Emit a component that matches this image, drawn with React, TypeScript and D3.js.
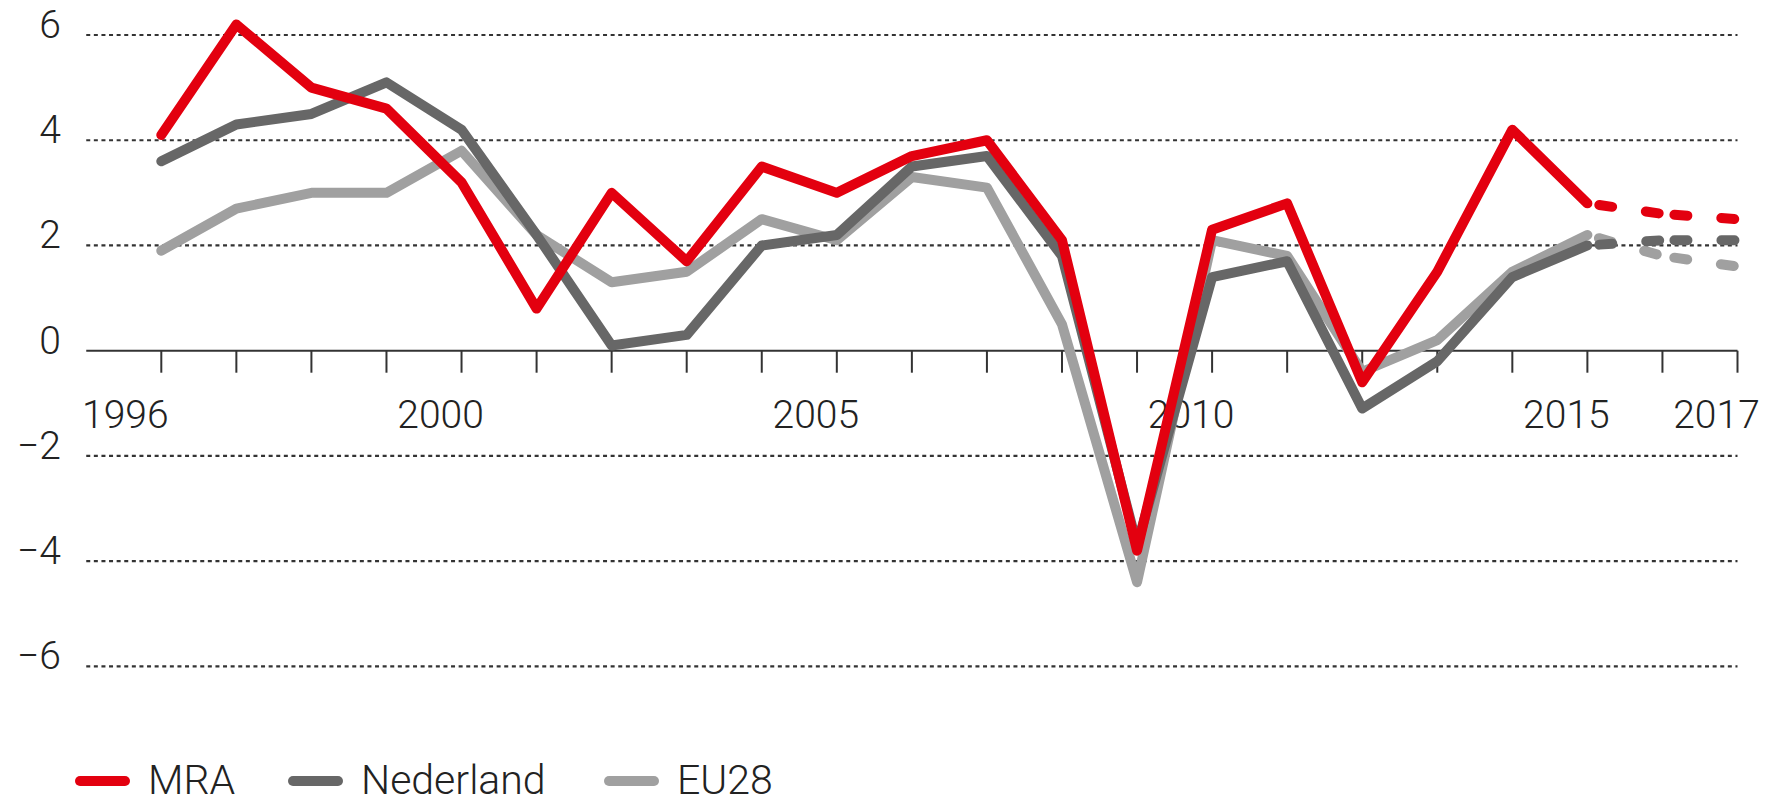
import React from "react"
import * as d3 from "d3"

// economic growth (%), MRA vs Nederland vs EU28, 2016-2017 forecast
const years = [1996, 1997, 1998, 1999, 2000, 2001, 2002, 2003, 2004, 2005, 2006, 2007, 2008, 2009, 2010, 2011, 2012, 2013, 2014, 2015, 2016, 2017]
const mra = [4.1, 6.2, 5.0, 4.6, 3.2, 0.8, 3.0, 1.7, 3.5, 3.0, 3.7, 4.0, 2.1, -3.8, 2.3, 2.8, -0.6, 1.5, 4.2, 2.8, 2.6, 2.5]
const nederland = [3.6, 4.3, 4.5, 5.1, 4.2, 2.2, 0.1, 0.3, 2.0, 2.2, 3.5, 3.7, 1.8, -3.7, 1.4, 1.7, -1.1, -0.2, 1.4, 2.0, 2.1, 2.1]
const eu28 = [1.9, 2.7, 3.0, 3.0, 3.8, 2.2, 1.3, 1.5, 2.5, 2.1, 3.3, 3.1, 0.5, -4.4, 2.1, 1.8, -0.4, 0.2, 1.5, 2.2, 1.8, 1.6]
const yTicks = [6, 4, 2, 0, -2, -4, -6]
const xLabels = [1996, 2000, 2005, 2010, 2015, 2017]
const lastActual = 2015

const seriesNames = ["EU28", "Nederland", "MRA"]
const seriesValues = [eu28, nederland, mra]
const seriesColors = ["#a0a0a0", "#676767", "#e3000f"]
const legendOrder = ["MRA", "Nederland", "EU28"]

const W = 1769
const H = 805
const font = "Roboto, 'Liberation Sans', sans-serif"

export default function App() {
  const x = d3.scaleLinear().domain([1996, 2017]).range([161.3, 1737.5])
  const y = d3.scaleLinear().domain([-6, 6]).range([666.4, 35])
  const fmt = d3.format("d")

  const line = d3
    .line<[number, number]>()
    .x(d => x(d[0]))
    .y(d => y(d[1]))

  const lines = seriesNames.map((name, i) => {
    const pts: [number, number][] = years.map((yr, j) => [yr, seriesValues[i][j]])
    const actual = pts.filter(p => p[0] <= lastActual)
    const fc = pts.filter(p => p[0] >= lastActual)
    const segs = d3.pairs(fc)
    return { name, color: seriesColors[i], actual, segs }
  })

  // legend item positions
  const legendX = [80, 293, 609]

  return (
    <svg width={W} height={H} style={{ position: "absolute", left: 0, top: 0, background: "#fff" }} fontFamily={font}>
      {/* grid lines */}
      {yTicks.filter(t => t !== 0).map(t => (
        <line key={t} x1={x(1995)} x2={x(2017)} y1={y(t)} y2={y(t)} stroke="#333" strokeWidth={2.2} strokeDasharray="4 3.6" />
      ))}
      {/* zero axis + ticks */}
      <line x1={x(1995)} x2={x(2017)} y1={y(0)} y2={y(0)} stroke="#333" strokeWidth={2} />
      {years.map(yr => (
        <line key={yr} x1={x(yr)} x2={x(yr)} y1={y(0)} y2={y(0) + 22} stroke="#333" strokeWidth={2} />
      ))}
      {/* y labels */}
      {yTicks.map(t => (
        <text key={t} x={61} y={y(t) + 3} textAnchor="end" fontSize={39} fontWeight={300} fill="#222">
          {fmt(t)}
        </text>
      ))}
      {/* x labels */}
      {xLabels.map((yr, i) => (
        <text key={yr} x={x(yr) - (i === 0 ? 36 : 21)} y={428} textAnchor="middle" fontSize={39} fontWeight={300} fill="#222">
          {yr}
        </text>
      ))}
      {/* series */}
      {lines.map(l => (
        <g key={l.name}>
          <path d={line(l.actual) || ""} fill="none" stroke={l.color} strokeWidth={10} strokeLinejoin="round" strokeLinecap="round" />
          {l.segs.map((s, k) => (
            <path key={k} d={line(s) || ""} fill="none" stroke={l.color} strokeWidth={10} strokeLinecap="round" strokeDasharray="13 34" strokeDashoffset={35} />
          ))}
        </g>
      ))}
      {/* legend */}
      {legendOrder.map((name, i) => {
        const idx = seriesNames.indexOf(name)
        return (
          <g key={name} transform={`translate(${legendX[i]},781)`}>
            <line x1={0} x2={45} y1={0} y2={0} stroke={seriesColors[idx]} strokeWidth={10} strokeLinecap="round" />
            <text x={68} y={13} fontSize={41} fontWeight={300} fill="#222">
              {name}
            </text>
          </g>
        )
      })}
    </svg>
  )
}
